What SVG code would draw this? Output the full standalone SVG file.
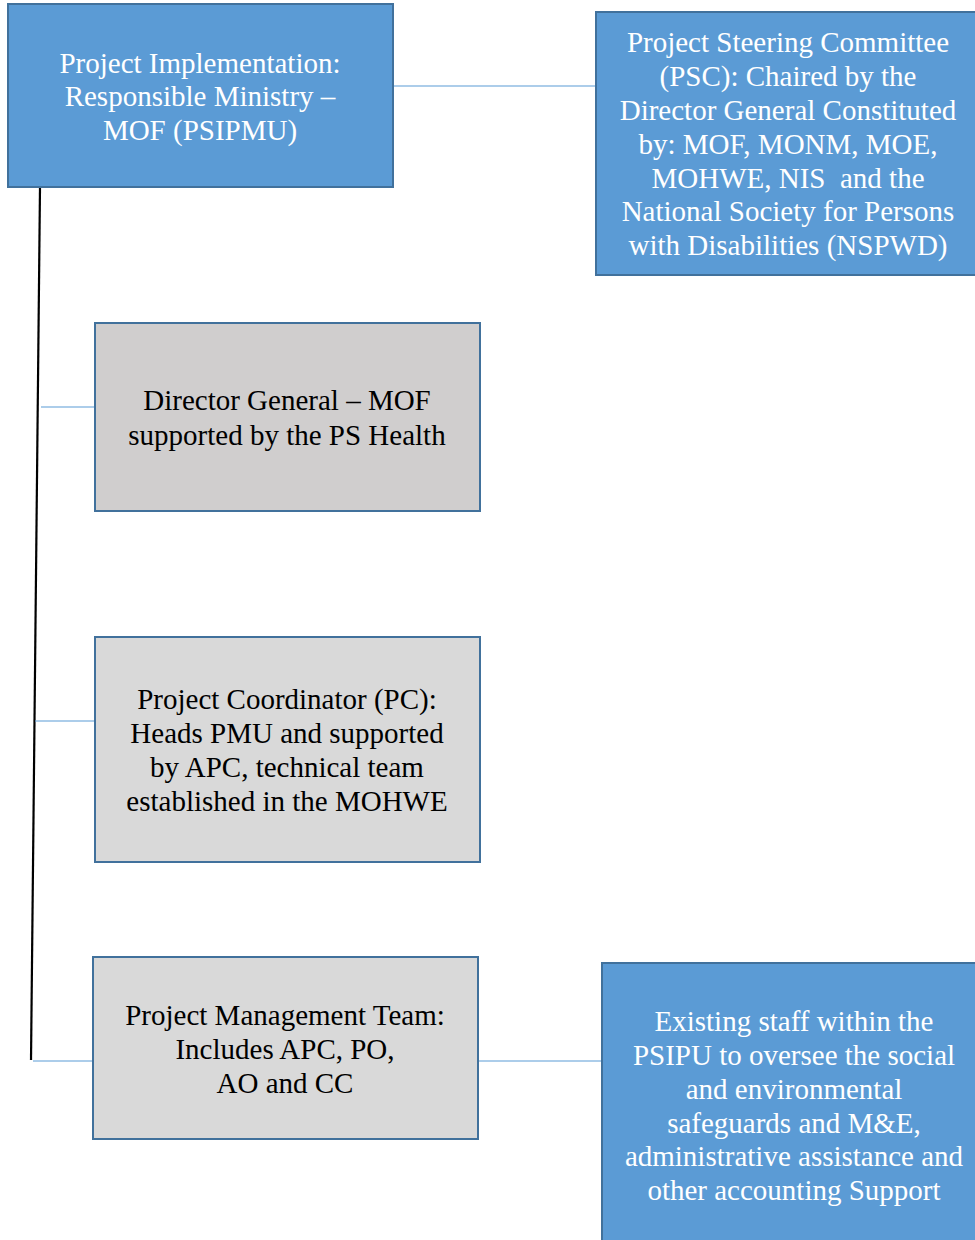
<svg xmlns="http://www.w3.org/2000/svg" width="975" height="1240" viewBox="0 0 975 1240">
<style>
.blue{fill:#5B9BD5;stroke:#41719C;stroke-width:2}
.gray{fill:#D9D9D9;stroke:#41719C;stroke-width:2}
.gray2{fill:#D0CECE;stroke:#41719C;stroke-width:2}
text{font-family:"Liberation Serif","Times New Roman",serif;font-size:29px;text-anchor:middle}
.w{fill:#FFFFFF}
.k{fill:#000000}
.c{stroke:#5B9BD5;stroke-width:1.2;fill:none}
.main{stroke:#000000;stroke-width:2.2;fill:none}
</style>
<rect width="975" height="1240" fill="#FFFFFF"/>
<g id="connectors">
<line class="main" x1="40" y1="187" x2="31" y2="1060"/>
<line class="c" x1="393" y1="86" x2="596" y2="86"/>
<line class="c" x1="41" y1="407" x2="95" y2="407"/>
<line class="c" x1="35" y1="721" x2="95" y2="721"/>
<line class="c" x1="33" y1="1061" x2="93" y2="1061"/>
<line class="c" x1="476" y1="1061" x2="602" y2="1061"/>
<line class="c" x1="475" y1="1050" x2="475" y2="1056"/>
</g>
<g id="node-pi">
<rect class="blue" x="8" y="4" width="385" height="183"/>
<text class="w" x="200" y="73">Project Implementation:</text>
<text class="w" x="200" y="106">Responsible Ministry –</text>
<text class="w" x="200" y="140">MOF (PSIPMU)</text>
</g>
<g id="node-psc">
<rect class="blue" x="596" y="12" width="390" height="263"/>
<text class="w" x="788" y="52">Project Steering Committee</text>
<text class="w" x="788" y="86">(PSC): Chaired by the</text>
<text class="w" x="788" y="120">Director General Constituted</text>
<text class="w" x="788" y="154">by: MOF, MONM, MOE,</text>
<text class="w" x="788" y="188" xml:space="preserve">MOHWE, NIS  and the</text>
<text class="w" x="788" y="221">National Society for Persons</text>
<text class="w" x="788" y="255">with Disabilities (NSPWD)</text>
</g>
<g id="node-dg">
<rect class="gray2" x="95" y="323" width="385" height="188"/>
<text class="k" x="287" y="410">Director General – MOF</text>
<text class="k" x="287" y="445">supported by the PS Health</text>
</g>
<g id="node-pc">
<rect class="gray" x="95" y="637" width="385" height="225"/>
<text class="k" x="287" y="709">Project Coordinator (PC):</text>
<text class="k" x="287" y="743">Heads PMU and supported</text>
<text class="k" x="287" y="777">by APC, technical team</text>
<text class="k" x="287" y="811">established in the MOHWE</text>
</g>
<g id="node-pmt">
<rect class="gray" x="93" y="957" width="385" height="182"/>
<text class="k" x="285" y="1025">Project Management Team:</text>
<text class="k" x="285" y="1059">Includes APC, PO,</text>
<text class="k" x="285" y="1093">AO and CC</text>
</g>
<g id="node-staff">
<rect class="blue" x="602" y="963" width="390" height="290"/>
<text class="w" x="794" y="1031">Existing staff within the</text>
<text class="w" x="794" y="1065">PSIPU to oversee the social</text>
<text class="w" x="794" y="1099">and environmental</text>
<text class="w" x="794" y="1133">safeguards and M&amp;E,</text>
<text class="w" x="794" y="1166">administrative assistance and</text>
<text class="w" x="794" y="1200">other accounting Support</text>
</g>
</svg>
